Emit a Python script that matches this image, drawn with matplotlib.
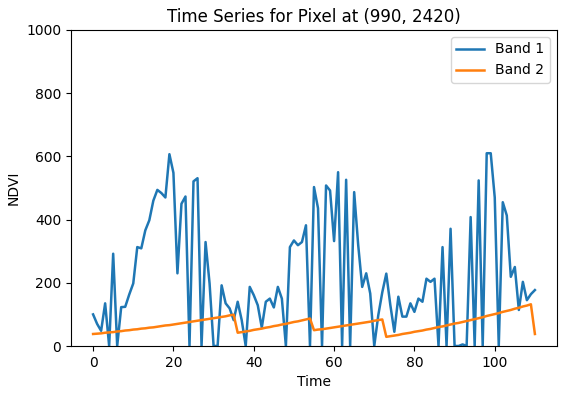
import matplotlib
matplotlib.use("Agg")
import matplotlib.pyplot as plt

time = list(range(111))

band1 = [100, 70, 48, 135, 0, 292, 0, 123, 124, 163,
         198, 313, 309, 366, 398, 460, 494, 484, 470, 607,
         548, 230, 450, 473, 0, 521, 531, 0, 329, 198,
         0, 0, 192, 135, 119, 82, 140, 82, 0, 187,
         161, 129, 58, 140, 150, 122, 187, 150, 0, 313,
         334, 319, 329, 382, 0, 503, 436, 0, 508, 492,
         332, 550, 0, 526, 0, 487, 320, 187, 230, 166,
         0, 97, 170, 229, 130, 45, 156, 93, 93, 135,
         108, 150, 140, 213, 203, 213, 0, 313, 0, 371,
         0, 0, 5, 0, 408, 0, 524, 0, 610, 610,
         470, 0, 455, 413, 219, 250, 114, 203, 145, 164,
         177]

band2 = [38, 39, 40, 42, 43, 44, 46, 47, 49, 50,
         52, 53, 55, 56, 58, 59, 61, 63, 65, 66,
         68, 70, 72, 74, 76, 78, 80, 82, 84, 86,
         88, 90, 92, 94, 97, 99,
         42, 44, 46, 48, 51, 53, 55, 58, 60, 63,
         65, 68, 70, 73, 76, 78, 81, 84, 87,
         50, 52, 53, 55, 57, 59, 61, 63, 65, 67,
         69, 71, 73, 75, 77, 80, 82, 84,
         29, 31, 33, 35, 38, 40, 42, 45, 47, 49,
         52, 54, 57, 60, 62, 65, 68, 71, 73, 76,
         79, 82, 85, 88, 91, 95, 98, 101, 104, 108,
         111, 114, 118, 121, 125, 128, 132,
         38]

fig = plt.figure(figsize=(5.64, 3.97), dpi=100)
ax = fig.add_axes([71/564, 1 - 346/397, (557-71)/564, (346-30)/397])
ax.plot(time, band1, label="Band 1", linewidth=1.8)
ax.plot(time, band2, label="Band 2", linewidth=1.8)
ax.set_ylim(0, 1000)
ax.set_title("Time Series for Pixel at (990, 2420)")
ax.set_xlabel("Time")
ax.set_ylabel("NDVI")
ax.legend(loc="upper right")
fig.savefig("out.png", dpi=100)
